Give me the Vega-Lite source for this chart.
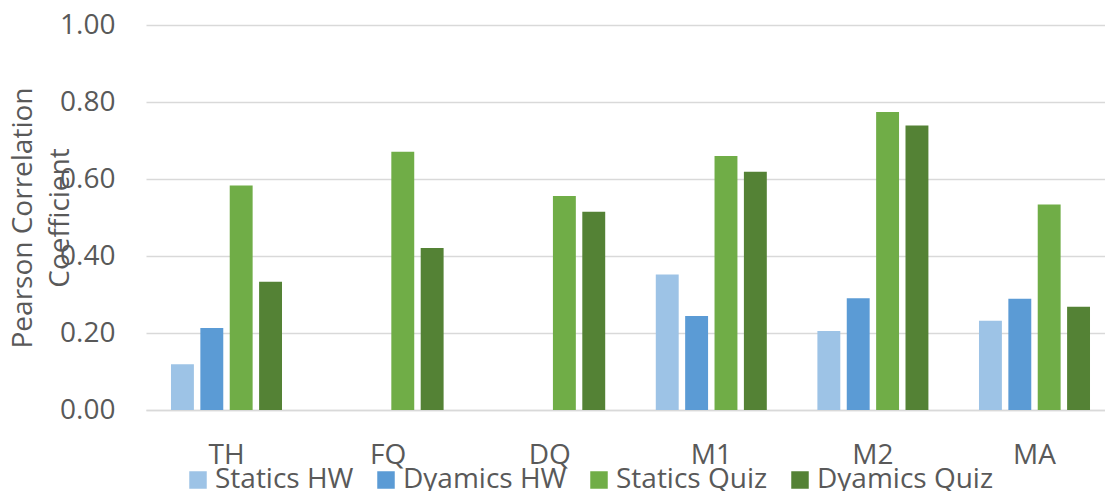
{
  "$schema": "https://vega.github.io/schema/vega-lite/v6.json",
  "width": 959,
  "height": 385,
  "autosize": {"type": "none"},
  "padding": {"left": 146, "top": 25, "right": 0, "bottom": 81},
  "background": "white",
  "config": {
    "view": {"stroke": null},
    "font": "Open Sans"
  },
  "data": {
    "values": [
      {"category": "TH", "series": "Statics HW", "value": 0.119},
      {"category": "TH", "series": "Dyamics HW", "value": 0.213},
      {"category": "TH", "series": "Statics Quiz", "value": 0.583},
      {"category": "TH", "series": "Dyamics Quiz", "value": 0.333},
      {"category": "FQ", "series": "Statics Quiz", "value": 0.671},
      {"category": "FQ", "series": "Dyamics Quiz", "value": 0.421},
      {"category": "DQ", "series": "Statics Quiz", "value": 0.556},
      {"category": "DQ", "series": "Dyamics Quiz", "value": 0.515},
      {"category": "M1", "series": "Statics HW", "value": 0.352},
      {"category": "M1", "series": "Dyamics HW", "value": 0.244},
      {"category": "M1", "series": "Statics Quiz", "value": 0.66},
      {"category": "M1", "series": "Dyamics Quiz", "value": 0.619},
      {"category": "M2", "series": "Statics HW", "value": 0.205},
      {"category": "M2", "series": "Dyamics HW", "value": 0.29},
      {"category": "M2", "series": "Statics Quiz", "value": 0.774},
      {"category": "M2", "series": "Dyamics Quiz", "value": 0.739},
      {"category": "MA", "series": "Statics HW", "value": 0.232},
      {"category": "MA", "series": "Dyamics HW", "value": 0.289},
      {"category": "MA", "series": "Statics Quiz", "value": 0.534},
      {"category": "MA", "series": "Dyamics Quiz", "value": 0.268}
    ]
  },
  "mark": {"type": "bar"},
  "encoding": {
    "x": {
      "field": "category",
      "type": "nominal",
      "sort": ["TH", "FQ", "DQ", "M1", "M2", "MA"],
      "scale": {"domain": ["TH", "FQ", "DQ", "M1", "M2", "MA"], "paddingInner": 0.313, "paddingOuter": 0.1237, "align": 0.625},
      "axis": {
        "title": null,
        "labelAngle": 0,
        "labelFont": "Open Sans",
        "labelFontSize": 28,
        "labelColor": "#595959",
        "labelPadding": 31,
        "ticks": false,
        "domainColor": "#d9d9d9",
        "domainWidth": 1.5
      }
    },
    "xOffset": {
      "field": "series",
      "type": "nominal",
      "scale": {"domain": ["Statics HW", "Dyamics HW", "Statics Quiz", "Dyamics Quiz"], "paddingInner": 0.22, "paddingOuter": 0}
    },
    "y": {
      "field": "value",
      "type": "quantitative",
      "scale": {"domain": [0, 1]},
      "axis": {
        "title": ["Pearson Correlation", "Coefficient"],
        "titleFont": "Open Sans",
        "titleFontSize": 28,
        "titleFontWeight": "normal",
        "titleColor": "#595959",
        "titleLineHeight": 37,
        "titleX": -123,
        "titleBaseline": "middle",
        "values": [0, 0.2, 0.4, 0.6, 0.8, 1.0],
        "format": ".2f",
        "labelFont": "Open Sans",
        "labelFontSize": 28,
        "labelColor": "#595959",
        "labelPadding": 31,
        "ticks": false,
        "domain": false,
        "gridColor": "#d9d9d9",
        "gridWidth": 1.5
      }
    },
    "color": {
      "field": "series",
      "type": "nominal",
      "scale": {
        "domain": ["Statics HW", "Dyamics HW", "Statics Quiz", "Dyamics Quiz"],
        "range": ["#9dc3e6", "#5b9bd5", "#70ad47", "#548235"]
      },
      "legend": {
        "title": null,
        "orient": "none",
        "direction": "horizontal",
        "legendX": 38,
        "legendY": 441,
        "padding": 0,
        "symbolType": "square",
        "symbolSize": 306,
        "symbolStrokeWidth": 0,
        "symbolOpacity": 1,
        "labelFont": "Open Sans",
        "labelFontSize": 28,
        "labelColor": "#595959",
        "labelOffset": 3,
        "columnPadding": 18,
        "labelLimit": 400
      }
    }
  }
}
